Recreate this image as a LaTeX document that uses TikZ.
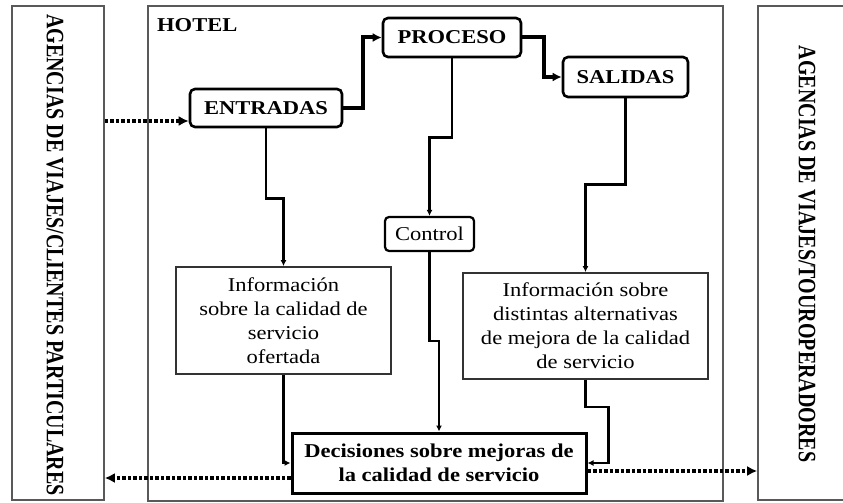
\documentclass[tikz,border=0pt]{standalone}
\usepackage{fontspec}
\setmainfont{Liberation Serif}[FakeStretch=1.15]
\newfontfamily\vertfont{Liberation Serif}[FakeStretch=0.8]
\usetikzlibrary{arrows.meta,positioning}

\begin{document}
\begin{tikzpicture}[x=1pt,y=-1pt,
    every node/.style={font=\fontsize{19.6}{24}\selectfont},
    frame/.style={draw=black!65,line width=1.6pt},
    stage/.style={draw,rounded corners=5pt,line width=2.6pt,font=\fontsize{19.6}{24}\selectfont\bfseries},
    infobox/.style={draw=black!80,line width=1.8pt,align=center},
    flow/.style={line width=4pt,-{Latex[length=9pt,width=9pt]}},
    conn/.style={line width=2.6pt,-{Latex[length=6pt,width=6pt]}},
    dotflow/.style={line width=3.5pt,dash pattern=on 3.5pt off 2pt,-{Latex[length=10pt,width=10pt]}},
    sidetext/.style={rotate=-90,font=\fontsize{25}{30}\selectfont\vertfont\bfseries}]
    \useasboundingbox (0,0) rectangle (843,503);
    \clip (0,0) rectangle (843,503);

    \node[frame,minimum width=92,minimum height=494] (agencias_clientes) at (58,253) {};
    \node[sidetext] (clientes_text) at (55,255) {AGENCIAS DE VIAJES/CLIENTES PARTICULARES};
    \node[frame,minimum width=112,minimum height=494] (agencias_tour) at (814,253) {};
    \node[sidetext] (tour_text) at (807,254) {AGENCIAS DE VIAJES/TOUROPERADORES};
    \node[frame,minimum width=575,minimum height=495] (hotel) at (435.5,253.5) {};
    \node[anchor=west,inner sep=0pt,font=\fontsize{19.6}{24}\selectfont\bfseries] (hotel_label) at (157,25) {HOTEL};

    \node[stage,minimum width=152,minimum height=38] (entradas) at (266,108) {ENTRADAS};
    \node[stage,minimum width=138,minimum height=39] (proceso) at (452,37.5) {PROCESO};
    \node[stage,minimum width=125,minimum height=40] (salidas) at (625.5,77) {SALIDAS};
    \node[draw,rounded corners=4pt,line width=2.2pt,minimum width=89,minimum height=34] (control) at (429.5,234) {Control};
    \node[infobox,minimum width=215,minimum height=107] (info_calidad) at (283.5,320.5) {Información\\sobre la calidad de\\servicio\\ofertada};
    \node[infobox,minimum width=245,minimum height=106] (info_mejoras) at (585.5,326) {Información sobre\\distintas alternativas\\de mejora de la calidad\\de servicio};
    \node[draw,line width=3pt,minimum width=294,minimum height=60,align=center,font=\fontsize{19.6}{24}\selectfont\bfseries] (decisiones) at (439,463) {Decisiones sobre mejoras de\\la calidad de servicio};

    \coordinate (entrada_pt) at ([yshift=-13pt]entradas.west);
    \coordinate (salida_izq) at ([yshift=-15pt]decisiones.west);
    \coordinate (salida_der) at ([yshift=-8pt]decisiones.east);

    \draw[dotflow] (agencias_clientes.east |- entrada_pt) -- (entrada_pt);
    \draw[flow] (entradas.east) -- ++(20,0) |- (proceso.west);
    \draw[flow] (proceso.east) -- ++(22,0) |- (salidas.west);
    \draw[conn] (proceso.south) -- ++(0,79) -| (control.north);
    \draw[conn] (entradas.south) -- ++(0,70) -| (info_calidad.north);
    \draw[conn] (salidas.south) -- ++(0,86) -| (info_mejoras.north);
    \draw[conn] (control.south) -- ++(0,89) -| (decisiones.north);
    \draw[conn] (info_calidad.south) |- (decisiones.west);
    \draw[conn] (info_mejoras.south) -- ++(0,27) -- ++(23,0) |- (decisiones.east);
    \draw[dotflow] (salida_izq) -- (agencias_clientes.east |- salida_izq);
    \draw[dotflow] (salida_der) -- (agencias_tour.west |- salida_der);
\end{tikzpicture}
\end{document}
